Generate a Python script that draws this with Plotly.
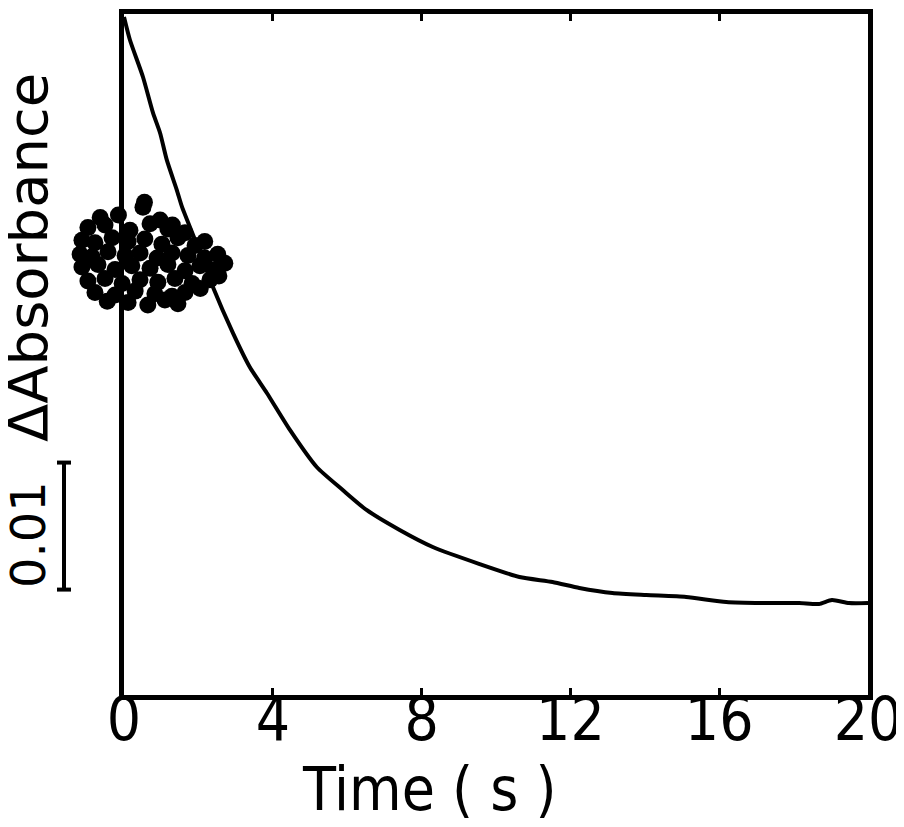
import plotly.graph_objects as go

# ---- data ----
# decay trace: time (s) and delta absorbance
CURVE_T = [0.0, 0.16, 0.51, 0.78, 0.97, 1.15, 1.42, 1.56, 1.91, 2.17, 2.39, 2.93, 3.38,
           3.84, 4.46, 5.18, 5.88, 6.52, 7.41, 8.30, 9.56, 10.63, 11.52, 12.24, 13.13,
           14.04, 15.11, 16.19, 17.15, 18.15, 18.68, 19.03, 19.49, 20.0]
CURVE_DA = [0.05339, 0.05157, 0.04866, 0.04583, 0.04425, 0.04213, 0.03976, 0.03843,
            0.03583, 0.03386, 0.03213, 0.02850, 0.02583, 0.02378, 0.02087, 0.01795,
            0.01614, 0.01457, 0.01299, 0.01165, 0.01031, 0.00929, 0.00890, 0.00843,
            0.00803, 0.00787, 0.00772, 0.00732, 0.00724, 0.00724, 0.00717, 0.00748,
            0.00724, 0.00724]

# noisy cluster of points near the start (extends left of t = 0)
BLOB_T = [-0.64, -0.15, 0.51, 0.97, 0.55, 1.30,
          -0.97, -0.51, 0.16, 0.70, 1.18, 1.64,
          -1.13, -0.78, -0.32, 0.11, 0.56, 1.02, 1.45, 1.91, 2.17,
          -1.18, -0.86, -0.43, 0.03, 0.43, 0.89, 1.29, 1.72, 2.17, 2.52,
          -1.13, -0.70, -0.24, 0.21, 0.70, 1.18, 1.64, 2.04, 2.44, 2.71,
          -0.97, -0.51, -0.05, 0.43, 0.91, 1.37, 1.83, 2.31, 2.55,
          -0.78, -0.24, 0.30, 0.83, 1.29, 1.64, 2.05,
          -0.45, 0.11, 0.64, 1.10, 1.45]
BLOB_DA = [0.0376, 0.0378, 0.0384, 0.0374, 0.0388, 0.0370,
           0.0368, 0.0370, 0.0366, 0.0371, 0.0367, 0.0364,
           0.0358, 0.0356, 0.0360, 0.0357, 0.0359, 0.0355, 0.0360, 0.0354, 0.0357,
           0.0347, 0.0345, 0.0349, 0.0346, 0.0348, 0.0344, 0.0348, 0.0346, 0.0344, 0.0347,
           0.0337, 0.0339, 0.0335, 0.0338, 0.0336, 0.0339, 0.0334, 0.0338, 0.0335, 0.0340,
           0.0326, 0.0328, 0.0324, 0.0327, 0.0325, 0.0328, 0.0324, 0.0327, 0.0330,
           0.0317, 0.0315, 0.0318, 0.0316, 0.0314, 0.0317, 0.0320,
           0.0310, 0.0309, 0.0307, 0.0311, 0.0308]

X_TICKS = [0, 4, 8, 12, 16, 20]
X_TICK_LABELS = ["0", "4", "8", "12", "16", "20"]
X_RANGE = [0, 20]
Y_RANGE = [0, 0.05362]
SCALE_BAR = 0.01          # length of the scale bar in delta absorbance
SCALE_BASE = 0.0083       # where the scale bar starts

# ---- layout geometry (pixels, page coordinates) ----
OFF = 8                               # default page margin around the figure
W, H = 904 - OFF, 827 - OFF
FRAME_L, FRAME_R, FRAME_T, FRAME_B = 124, 868, 14, 695
ML = 40 - OFF
MR = W - (FRAME_R - OFF)
MT = FRAME_T - OFF
MB = H - (FRAME_B - OFF)
PLOT_W = W - ML - MR
X_DOMAIN_START = (FRAME_L - OFF - ML) / PLOT_W
# hidden companion axis spanning the whole width so the cluster can cross t = 0
PX_PER_S = (FRAME_R - FRAME_L) / (X_RANGE[1] - X_RANGE[0])
X2_LEFT = X_RANGE[0] - (FRAME_L - OFF - ML) / PX_PER_S


def px_x(p):
    return (p - OFF - ML) / PLOT_W


def px_y(p):
    return (FRAME_B - p) / (FRAME_B - FRAME_T)


NARROW = "Liberation Sans Narrow, Arial Narrow, DejaVu Sans Condensed, sans-serif"
WIDE = "DejaVu Sans, Verdana, sans-serif"

fig = go.Figure()

fig.add_trace(go.Scatter(
    x=CURVE_T, y=CURVE_DA, mode="lines", xaxis="x", yaxis="y",
    line=dict(color="black", width=4, shape="spline", smoothing=0.6),
    showlegend=False, hoverinfo="skip"))

fig.add_trace(go.Scatter(
    x=BLOB_T, y=BLOB_DA, mode="markers", xaxis="x2", yaxis="y",
    marker=dict(color="black", size=17, line=dict(width=0)),
    showlegend=False, hoverinfo="skip"))

# scale bar (0.01 absorbance) with end serifs
bx = px_x(64)
half = 7 / PLOT_W
fig.add_shape(type="line", xref="paper", yref="y", x0=bx, x1=bx,
              y0=SCALE_BASE, y1=SCALE_BASE + SCALE_BAR,
              line=dict(color="black", width=4))
for yy in (SCALE_BASE, SCALE_BASE + SCALE_BAR):
    fig.add_shape(type="line", xref="paper", yref="y", x0=bx - half, x1=bx + half,
                  y0=yy, y1=yy, line=dict(color="black", width=4))

fig.add_annotation(text="0.01", xref="paper", yref="paper", x=px_x(28),
                   y=px_y(535), textangle=-90, showarrow=False,
                   xanchor="center", yanchor="middle",
                   font=dict(family=WIDE, size=48, color="black"))
fig.add_annotation(text="ΔAbsorbance", xref="paper", yref="paper", x=px_x(27),
                   y=px_y(258), textangle=-90, showarrow=False,
                   xanchor="center", yanchor="middle",
                   font=dict(family=WIDE, size=56, color="black"))
fig.add_annotation(text="Time ( s )", xref="paper", yref="paper", x=px_x(429),
                   y=px_y(752), showarrow=False, xanchor="center", yanchor="top",
                   font=dict(family=NARROW, size=60, color="black"))

fig.update_layout(
    width=W, height=H, plot_bgcolor="rgba(0,0,0,0)", paper_bgcolor="white",
    margin=dict(l=ML, r=MR, t=MT, b=MB),
    xaxis=dict(domain=[X_DOMAIN_START, 1], range=X_RANGE, tickvals=X_TICKS,
               ticktext=X_TICK_LABELS, ticks="inside", ticklen=7, tickwidth=3,
               tickcolor="black", showline=True, linecolor="black", linewidth=5,
               mirror="ticks", showgrid=False, zeroline=False, automargin=False,
               ticklabelstandoff=-32, ticklabeloverflow="allow",
               tickfont=dict(family=NARROW, size=60, color="black")),
    xaxis2=dict(domain=[0, 1], range=[X2_LEFT, X_RANGE[1]], anchor="y",
                visible=False, showgrid=False, zeroline=False),
    yaxis=dict(range=Y_RANGE, showticklabels=False, ticks="", anchor="x",
               showline=True, linecolor="black", linewidth=5, mirror=True,
               showgrid=False, zeroline=False, automargin=False),
)

fig.write_html("out.html")
